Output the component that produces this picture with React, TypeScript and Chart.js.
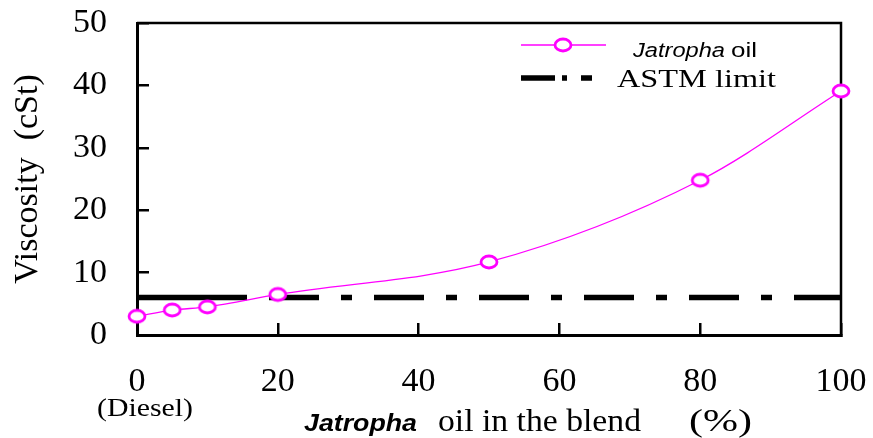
import React, { useEffect, useRef } from "react";
import { Chart, registerables } from "chart.js";

Chart.register(...registerables);

// Share of Jatropha oil in the diesel blend (%) and measured kinematic viscosity (cSt)
const blendPercent = [0, 5, 10, 20, 50, 80, 100];
const viscosity = [3.0, 4.0, 4.5, 6.5, 11.7, 24.8, 39.1];

// ASTM upper viscosity limit, drawn across the whole blend range
const astmBlend = [0, 100];
const astmLimit = [6, 6];

const xMin = 0;
const xMax = 100;
const xStep = 20;
const yMin = 0;
const yMax = 50;
const yStep = 10;

const SERIF = '"Liberation Serif", "Times New Roman", serif';
const SANS = '"Liberation Sans", Arial, sans-serif';
const MAGENTA = "#ff00ff";

// open elliptical marker used for the Jatropha series
function makeMarker(): HTMLCanvasElement {
  const c = document.createElement("canvas");
  c.width = 24;
  c.height = 20;
  const g = c.getContext("2d")!;
  g.beginPath();
  g.ellipse(12, 10, 8.0, 6.0, 0, 0, Math.PI * 2);
  g.fillStyle = "#ffffff";
  g.fill();
  g.lineWidth = 2.8;
  g.strokeStyle = MAGENTA;
  g.stroke();
  return c;
}

// dash-dot pattern of the limit line: a long lead-in, then long / short dashes
const astmDash: number[] = [110, 22];
for (let i = 0; i < 8; i++) astmDash.push(50, 22, 11, 22);

// draws text stretched horizontally so that it spans [x0, x1]
function fitText(
  ctx: CanvasRenderingContext2D,
  text: string,
  x0: number,
  x1: number,
  baseline: number,
  font: string
) {
  ctx.save();
  ctx.font = font;
  ctx.textAlign = "left";
  ctx.textBaseline = "alphabetic";
  ctx.fillStyle = "#000";
  const w = ctx.measureText(text).width;
  ctx.translate(x0, baseline);
  ctx.scale((x1 - x0) / w, 1);
  ctx.fillText(text, 0, 0);
  ctx.restore();
}

// keep the plot box exactly where the axes put it
function noSidePadding(s: any) {
  s.paddingTop = 0;
  s.paddingBottom = 0;
  s.paddingLeft = 0;
  s.paddingRight = 0;
}

function makeDecorations(marker: HTMLCanvasElement) {
  return {
    id: "decorations",
    beforeDatasetsDraw(chart: any) {
      const { ctx, chartArea } = chart;
      // closing frame: top and right edges of the plot box
      ctx.save();
      ctx.strokeStyle = "#000";
      ctx.lineWidth = 2.5;
      ctx.beginPath();
      ctx.moveTo(chartArea.left, chartArea.top);
      ctx.lineTo(chartArea.right, chartArea.top);
      ctx.lineTo(chartArea.right, chartArea.bottom);
      ctx.stroke();
      ctx.restore();
    },
    afterDraw(chart: any) {
      const { ctx } = chart;
      const xs = chart.scales.x;

      // legend
      ctx.save();
      ctx.strokeStyle = MAGENTA;
      ctx.lineWidth = 1.3;
      ctx.beginPath();
      ctx.moveTo(521, 45);
      ctx.lineTo(606, 45);
      ctx.stroke();
      ctx.drawImage(marker, 563 - marker.width / 2, 45 - marker.height / 2);

      ctx.strokeStyle = "#000";
      ctx.lineWidth = 5.5;
      ctx.setLineDash([34, 7, 5, 14, 11]);
      ctx.beginPath();
      ctx.moveTo(521, 78);
      ctx.lineTo(592, 78);
      ctx.stroke();
      ctx.restore();

      fitText(ctx, "Jatropha", 633, 725, 57, `italic 20px ${SANS}`);
      fitText(ctx, "oil", 731, 757, 57, `20px ${SANS}`);
      fitText(ctx, "ASTM limit", 617, 776, 87, `25px ${SERIF}`);

      // note under the zero tick
      const x0 = xs.getPixelForValue(0);
      fitText(ctx, "(Diesel)", x0 - 40, x0 + 56, 416, `26px ${SERIF}`);

      // x-axis title with the species name in bold italic
      fitText(ctx, "Jatropha", 304, 417, 431, `italic bold 24px ${SANS}`);
      fitText(ctx, "oil in the blend", 438, 641, 431, `32px ${SERIF}`);
      fitText(ctx, "(%)", 689, 752, 431, `32px ${SERIF}`);
    },
  };
}

export default function App() {
  const ref = useRef<HTMLCanvasElement | null>(null);

  useEffect(() => {
    if (!ref.current) return;
    const marker = makeMarker();
    const chart = new Chart(ref.current, {
      type: "line",
      data: {
        datasets: [
          {
            label: "Jatropha oil",
            data: blendPercent.map((x, i) => ({ x, y: viscosity[i] })),
            borderColor: MAGENTA,
            borderWidth: 1.3,
            cubicInterpolationMode: "monotone",
            pointStyle: marker as any,
            pointRadius: 8,
            clip: false as any,
          },
          {
            label: "ASTM limit",
            data: astmBlend.map((x, i) => ({ x, y: astmLimit[i] })),
            borderColor: "#000",
            borderWidth: 5.5,
            borderDash: astmDash,
            pointRadius: 0,
            clip: false as any,
          },
        ],
      },
      options: {
        responsive: false,
        animation: false,
        color: "#000",
        layout: { padding: { top: 23, right: 32, left: 0, bottom: 0 } },
        plugins: {
          legend: { display: false },
          tooltip: { enabled: false },
        },
        scales: {
          x: {
            type: "linear",
            min: xMin,
            max: xMax,
            afterFit: (s: any) => {
              s.height = 103;
              noSidePadding(s);
            },
            ticks: {
              stepSize: xStep,
              color: "#000",
              font: { family: SERIF, size: 34 },
              padding: 39,
              maxRotation: 0,
            },
            grid: {
              drawOnChartArea: false,
              drawTicks: true,
              tickLength: -12,
              color: "#000",
              lineWidth: 2.5,
            },
            border: { display: true, color: "#000", width: 3 },
          },
          y: {
            type: "linear",
            min: yMin,
            max: yMax,
            afterFit: (s: any) => {
              s.width = 137;
              noSidePadding(s);
            },
            ticks: {
              stepSize: yStep,
              color: "#000",
              font: { family: SERIF, size: 34 },
              padding: 42,
            },
            grid: {
              drawOnChartArea: false,
              drawTicks: true,
              tickLength: -12,
              color: "#000",
              lineWidth: 2.5,
            },
            border: { display: true, color: "#000", width: 3 },
            title: {
              display: true,
              text: "Viscosity  (cSt)",
              color: "#000",
              font: { family: SERIF, size: 34 },
              padding: { top: 8, bottom: 0 },
            },
          },
        },
      },
      plugins: [makeDecorations(marker)],
    });
    return () => chart.destroy();
  }, []);

  return (
    <div style={{ position: "fixed", left: 0, top: 0, width: 873, height: 438, background: "#fff" }}>
      <canvas ref={ref} width={873} height={438} style={{ display: "block" }} />
    </div>
  );
}
